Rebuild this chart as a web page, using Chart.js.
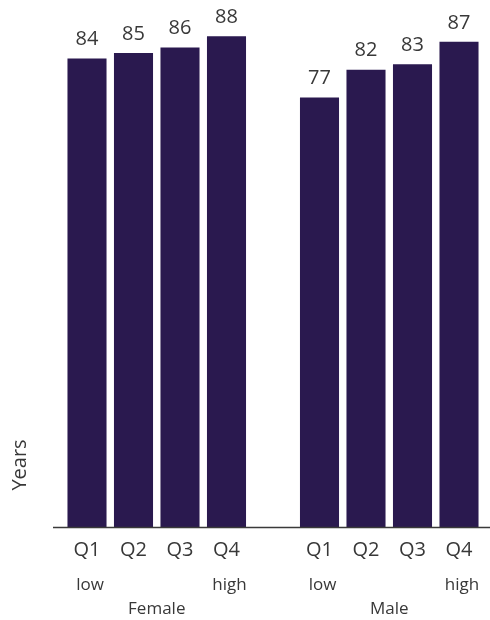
<!DOCTYPE html>
<html>
<head>
<meta charset="utf-8">
<script src="https://cdn.jsdelivr.net/npm/chart.js@4/dist/chart.umd.min.js"></script>
<style>
  html, body { margin: 0; padding: 0; background: #ffffff; }
  #wrap { width: 490px; height: 620px; position: relative; }
</style>
</head>
<body>
<div id="wrap"><canvas id="c" width="490" height="620"></canvas></div>
<script>
// Life expectancy by income quartile, split by sex (empty slot separates the groups)
const quartiles = ["Q1", "Q2", "Q3", "Q4", "", "Q1", "Q2", "Q3", "Q4"];
const quartileNotes = ["low", "", "", "high", "", "low", "", "", "high"];
const years = [84, 85, 86, 88, null, 77, 82, 83, 87];
const groups = [
  { name: "Female", first: 0, last: 3 },
  { name: "Male", first: 5, last: 8 }
];
const axisTitle = "Years";

const FONT = "'Open Sans', 'Noto Sans', sans-serif";
const TEXT = "#383838";
const BAR = "#2a194f";

// Draws the baseline, value labels, quartile labels, notes, group names and axis title
const annotate = {
  id: "annotate",
  afterDatasetsDraw(chart) {
    const ctx = chart.ctx;
    const x = chart.scales.x;
    const y = chart.scales.y;
    const base = y.getPixelForValue(0);
    ctx.save();

    // baseline
    ctx.strokeStyle = "#3a3a3a";
    ctx.lineWidth = 1.5;
    ctx.beginPath();
    ctx.moveTo(53, base + 0.5);
    ctx.lineTo(chart.width, base + 0.5);
    ctx.stroke();

    ctx.fillStyle = TEXT;
    ctx.textAlign = "center";
    ctx.textBaseline = "middle";

    // value labels above bars
    ctx.font = "20px " + FONT;
    const meta = chart.getDatasetMeta(0);
    years.forEach((v, i) => {
      if (v == null) return;
      const bar = meta.data[i];
      ctx.fillText(String(v), bar.x, bar.y - 19);
    });

    // quartile labels
    ctx.font = "20px " + FONT;
    quartiles.forEach((q, i) => {
      if (!q) return;
      ctx.fillText(q, x.getPixelForValue(i), base + 23);
    });

    // low / high notes
    ctx.font = "17px " + FONT;
    quartileNotes.forEach((n, i) => {
      if (!n) return;
      ctx.fillText(n, x.getPixelForValue(i) + 3, base + 58);
    });

    // group names
    ctx.font = "17px " + FONT;
    groups.forEach(g => {
      const cx = (x.getPixelForValue(g.first) + x.getPixelForValue(g.last)) / 2;
      ctx.fillText(g.name, cx, base + 82);
    });

    // axis title
    ctx.font = "20px " + FONT;
    ctx.translate(20, 465);
    ctx.rotate(-Math.PI / 2);
    ctx.fillText(axisTitle, 0, 0);

    ctx.restore();
  }
};

new Chart(document.getElementById("c"), {
  type: "bar",
  data: {
    labels: quartiles,
    datasets: [{
      data: years,
      backgroundColor: BAR,
      borderWidth: 0,
      categoryPercentage: 1.0,
      barPercentage: 0.84
    }]
  },
  options: {
    responsive: false,
    animation: false,
    devicePixelRatio: 1,
    layout: { padding: { left: 63.75, right: 7.75, top: 0, bottom: 93 } },
    plugins: { legend: { display: false }, tooltip: { enabled: false } },
    scales: {
      x: { display: false, offset: true },
      y: { display: false, min: 0, max: 94.5 }
    }
  },
  plugins: [annotate]
});
</script>
</body>
</html>
